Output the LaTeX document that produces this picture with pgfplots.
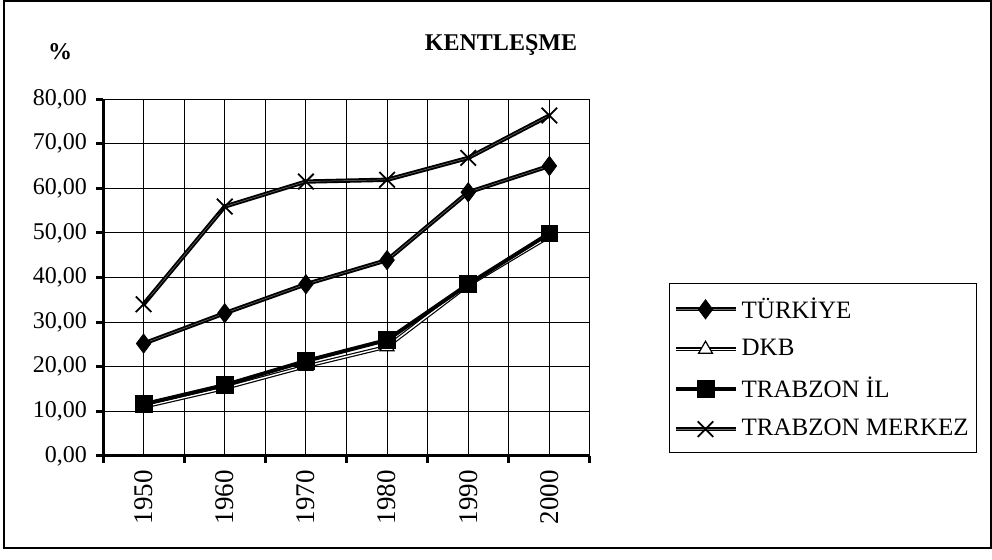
\documentclass[border=0pt]{standalone}
\usepackage{fontspec}
\setmainfont{Liberation Serif}
\usepackage{pgfplots}
\pgfplotsset{compat=1.18}
\begin{document}
\begin{tikzpicture}[x=1pt,y=1pt]
\path (0,0) rectangle (496,-280);
\draw[line width=0.6pt] (2,-0.5) rectangle (495.5,-274);
\node[font=\bfseries\fontsize{12}{14}\selectfont] at (30,-26) {\%};
\node[font=\bfseries\fontsize{12}{14}\selectfont] at (250.5,-22.5) {KENTLEŞME};
\begin{axis}[at={(51.5pt,-228pt)}, anchor=south west, scale only axis,
  width=243.5pt, height=178.5pt,
  xmin=0, xmax=6, ymin=0, ymax=80,
  axis lines=left, axis line style={-, line width=1.5pt},
  xtick={0.5,1.5,...,5.5}, xticklabels={1950,1960,1970,1980,1990,2000},
  minor xtick={0,1,...,6},
  xmajorgrids, xminorgrids, ymajorgrids,
  grid style={black, line width=0.5pt}, minor grid style={black, line width=0.5pt},
  ytick={0,10,...,80},
  tick align=outside,
  major x tick style={draw=none},
  minor x tick style={black, line width=1.5pt},
  major y tick style={black, line width=1.5pt},
  major tick length=3.5pt, minor tick length=3.5pt,
  tick label style={font=\fontsize{12}{14}\selectfont},
  yticklabel style={xshift=-1pt, /pgf/number format/.cd, fixed, fixed zerofill, precision=2, use comma, assume math mode=true},
  xticklabel style={rotate=90, anchor=east, font=\fontsize{13.5}{15}\selectfont},
  legend style={at={(1.162,0.4846)}, anchor=north west, draw=black, line width=0.5pt,
    font=\fontsize{12.5}{14}\selectfont, row sep=5.2pt, inner xsep=2pt, inner ysep=5pt},
  legend cell align=left,
  legend image code/.code={\draw[mark repeat=2, mark phase=2] plot coordinates {(0pt,0pt) (15pt,0pt) (30pt,0pt)};},
]
\addplot[black, line width=0.95pt, double=black!55, double distance=0.25pt, mark=diamond*, mark size=4.8pt,
  mark options={solid, fill=black, draw=black, line width=0.4pt}]
  coordinates {(0.5,25.2) (1.5,32.0) (2.5,38.5) (3.5,43.9) (4.5,59.1) (5.5,65.0)};
\addlegendentry{TÜRKİYE}
\addplot[black, line width=0.6pt, double=white, double distance=0.7pt, mark=triangle*, mark size=4pt,
  mark options={solid, fill=white, draw=black, line width=0.6pt}]
  coordinates {(0.5,11.0) (1.5,15.2) (2.5,20.1) (3.5,24.5) (4.5,38.3) (5.5,49.2)};
\addlegendentry{DKB}
\addplot[black, line width=2pt, mark=square*, mark size=4.2pt,
  mark options={solid, fill=black, draw=black, line width=0.4pt}]
  coordinates {(0.5,11.6) (1.5,15.9) (2.5,21.3) (3.5,26.0) (4.5,38.5) (5.5,49.9)};
\addlegendentry{TRABZON İL}
\addplot[black, line width=0.95pt, double=black!55, double distance=0.25pt, mark=x, mark size=5.5pt,
  mark options={solid, draw=black, line width=0.9pt}]
  coordinates {(0.5,34.0) (1.5,55.9) (2.5,61.5) (3.5,61.9) (4.5,66.8) (5.5,76.3)};
\addlegendentry{TRABZON MERKEZ}
\end{axis}
\end{tikzpicture}
\end{document}
